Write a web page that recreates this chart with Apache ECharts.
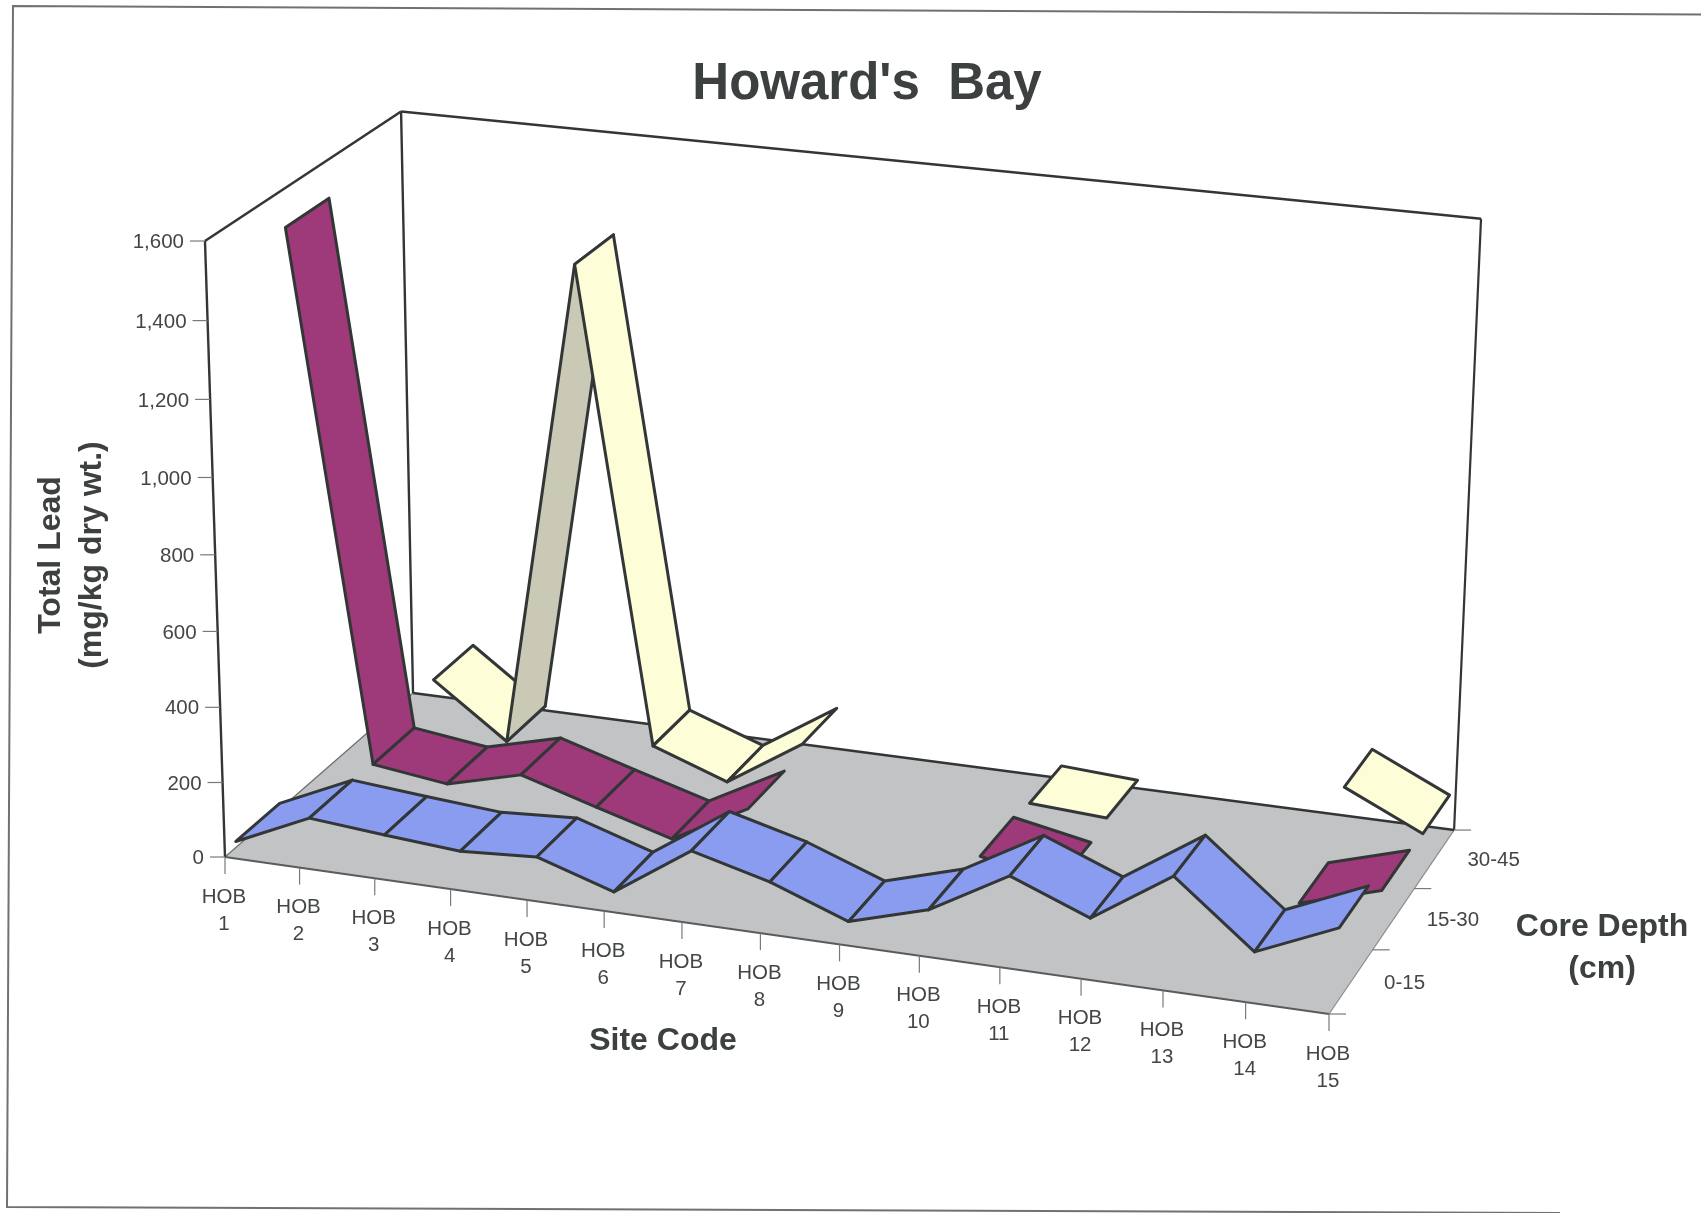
<!DOCTYPE html>
<html>
<head>
<meta charset="utf-8">
<title>Howard's Bay</title>
<script src="https://cdn.jsdelivr.net/npm/echarts@6/dist/echarts.min.js"></script>
<style>
  html, body { margin: 0; padding: 0; background: #fff; }
  #chart { width: 1701px; height: 1213px; }
</style>
</head>
<body>
<div id="chart"></div>
<script>
// Total lead (mg/kg dry wt.) per site and core depth; null means no sample.
const sites = ['1','2','3','4','5','6','7','8','9','10','11','12','13','14','15'];
const leadTicks = [0, 200, 400, 600, 800, 1000, 1200, 1400, 1600];
const depthLabels = ['0-15', '15-30', '30-45'];
const lead0to15 = [16, 107, 90, 75, 88, 24, 161, 108, 33, 93, 210, 130, 267, 102, 193];
const lead15to30 = [1500, 100, 74, 126, 66, 8, 117, null, null, 75, 35, null, null, 66, 128];
const lead30to45 = [null, 185, 40, 1351, 82, 10, 140, null, null, 62, 50, null, null, 216, 120];

// Perspective camera for the 3D box: u along sites, v into depth, w up the lead axis.
const CAMERA = {
  x: [1026.4, 215.9, -27.6, 225],
  y: [97.8, -117.2, -624.9, 857],
  h: [-0.0584, 0.0675, -0.037, 1]
};
function project(u, v, w) {
  const dot = r => r[0] * u + r[1] * v + r[2] * w + r[3];
  const h = dot(CAMERA.h);
  return [dot(CAMERA.x) / h, dot(CAMERA.y) / h];
}

// Site and lead values go through the cartesian axes, then into the 3D box.
function toBox(api, params, site, lead, depth) {
  const cs = params.coordSys;
  const c = api.coord([site, lead]);
  return project((c[0] - cs.x) / cs.width, depth, (cs.y + cs.height - c[1]) / cs.height);
}

const LABEL_FONT = '20.5px "Liberation Sans", Arial, sans-serif';
const TITLE_FONT = 'bold 32px "Liberation Sans", Arial, sans-serif';
const INK = '#333637';
const LABEL_INK = '#434647';
const EDGE = { stroke: INK, lineWidth: 3, lineJoin: 'round' };

function line(a, b, stroke, lineWidth) {
  return { type: 'line', shape: { x1: a[0], y1: a[1], x2: b[0], y2: b[1] }, style: { stroke, lineWidth } };
}
function label(text, x, y, align) {
  return {
    type: 'text',
    style: { text, x, y, align, verticalAlign: 'middle', font: LABEL_FONT, fill: LABEL_INK }
  };
}

// Floor and the two back walls.
function renderBox() {
  const a = project(0, 0, 0), b = project(1, 0, 0), c = project(1, 1, 0), d = project(0, 1, 0);
  const f = project(0, 0, 1), e = project(0, 1, 1), g = project(1, 1, 1);
  return {
    type: 'group',
    children: [
      { type: 'polygon', shape: { points: [a, b, c, d] }, style: { fill: '#c2c3c4' } },
      line(a, b, '#595b5c', 2),
      line(b, c, '#8a8c8d', 1.2),
      line(a, d, '#6b6d6e', 1.2),
      line(d, c, INK, 2.6),
      line(a, f, INK, 2.4),
      line(d, e, INK, 2.4),
      line(c, g, INK, 2.2),
      line(f, e, INK, 2.6),
      line(e, g, INK, 2.6)
    ]
  };
}

// Site ticks and two-line labels along the front floor edge.
function renderSiteTick(params, api) {
  const i = api.value(0);
  const p = toBox(api, params, i, 0, 0);
  return {
    type: 'group',
    children: [
      line(p, [p[0], p[1] + 17], '#77797a', 1.2),
      label('HOB', p[0] - 1, p[1] + 40, 'center'),
      label(sites[i], p[0] - 1, p[1] + 67, 'center')
    ]
  };
}

// Lead ticks and labels along the front-left vertical edge.
function renderLeadTick(params, api) {
  const p = toBox(api, params, 0, api.value(1), 0);
  return {
    type: 'group',
    children: [
      line([p[0] - 15, p[1]], p, '#77797a', 1.2),
      label(leadTicks[params.dataIndex].toLocaleString('en-US'), p[0] - 21, p[1] + 1.5, 'right')
    ]
  };
}

// Depth ticks on the right floor edge, with a label centred on each band.
function renderDepthTick(params, api) {
  const k = params.dataIndex;
  const t = toBox(api, params, sites.length - 1, 0, k / depthLabels.length);
  const m = toBox(api, params, sites.length - 1, 0, (k + 0.5) / depthLabels.length);
  return {
    type: 'group',
    children: [
      line(t, [t[0] + 17, t[1]], '#77797a', 1.2),
      label(depthLabels[k], m[0] + 33, m[1] + 1.5, 'left')
    ]
  };
}
function renderBackDepthTick(params, api) {
  const t = toBox(api, params, sites.length - 1, 0, 1);
  return line(t, [t[0] + 17, t[1]], '#77797a', 1.2);
}

// One ribbon face between two neighbouring sites.
function ribbonRenderer(band, fill, steepFill) {
  const near = (band + 0.5 - 0.335) / depthLabels.length;
  const far = (band + 0.5 + 0.335) / depthLabels.length;
  return function (params, api) {
    const i = api.value(0), v0 = api.value(1), v1 = api.value(2);
    const points = [
      toBox(api, params, i, v0, near),
      toBox(api, params, i, v0, far),
      toBox(api, params, i + 1, v1, far),
      toBox(api, params, i + 1, v1, near)
    ];
    const shaded = steepFill && v1 - v0 > 500;
    return {
      type: 'polygon',
      shape: { points },
      style: Object.assign({ fill: shaded ? steepFill : fill }, EDGE)
    };
  };
}

function segments(values) {
  const out = [];
  values.forEach((v, i) => {
    if (v !== null && values[i + 1] !== null && i + 1 < values.length) {
      out.push([i, v, values[i + 1]]);
    }
  });
  return out;
}

function custom(name, renderItem, data, z) {
  return {
    type: 'custom', name, renderItem, data, z,
    silent: true, clip: false, animation: false,
    encode: { x: 0, y: 1 }
  };
}

const chart = echarts.init(document.getElementById('chart'), null, { renderer: 'canvas' });
chart.setOption({
  backgroundColor: '#ffffff',
  animation: false,
  title: {
    text: "Howard's  Bay",
    left: 862, top: 54, textAlign: 'center',
    textStyle: { fontFamily: '"Liberation Sans", Arial, sans-serif', fontWeight: 'bold', fontSize: 51, color: '#3c4041' }
  },
  grid: { left: 200, top: 200, width: 1000, height: 600, show: false },
  xAxis: { type: 'category', data: sites, boundaryGap: false, show: false },
  yAxis: { type: 'value', min: 0, max: 1600, interval: 200, show: false },
  graphic: [
    // Page border
    { type: 'polyline', silent: true, z: 1, shape: { points: [[1701, 14.5], [13, 6], [7, 1207], [1560, 1213]] },
      style: { stroke: '#6f7172', lineWidth: 2, fill: null } },
    { type: 'text', silent: true, z: 10, rotation: Math.PI / 2, x: 51, y: 555,
      style: { text: 'Total Lead', align: 'center', verticalAlign: 'middle', font: TITLE_FONT, fill: '#3c4041' } },
    { type: 'text', silent: true, z: 10, rotation: Math.PI / 2, x: 92, y: 555,
      style: { text: '(mg/kg dry wt.)', align: 'center', verticalAlign: 'middle', font: TITLE_FONT, fill: '#3c4041' } },
    { type: 'text', silent: true, z: 10, x: 663, y: 1041,
      style: { text: 'Site Code', align: 'center', verticalAlign: 'middle', font: TITLE_FONT, fill: '#3c4041' } },
    { type: 'text', silent: true, z: 10, x: 1602, y: 927,
      style: { text: 'Core Depth', align: 'center', verticalAlign: 'middle', font: TITLE_FONT, fill: '#3c4041' } },
    { type: 'text', silent: true, z: 10, x: 1602, y: 969,
      style: { text: '(cm)', align: 'center', verticalAlign: 'middle', font: TITLE_FONT, fill: '#3c4041' } }
  ],
  series: [
    custom('box', renderBox, [[0, 0]], 2),
    custom('site ticks', renderSiteTick, sites.map((s, i) => [i, 0]), 3),
    custom('lead ticks', renderLeadTick, leadTicks.map(v => [0, v]), 3),
    custom('depth ticks', renderDepthTick, depthLabels.map(() => [14, 0]), 3),
    custom('back depth tick', renderBackDepthTick, [[14, 0]], 3),
    custom('30-45', ribbonRenderer(2, '#fdfdd8', '#c9c9b6'), segments(lead30to45), 4),
    custom('15-30', ribbonRenderer(1, '#9e3a7a'), segments(lead15to30), 5),
    custom('0-15', ribbonRenderer(0, '#8a9cf0'), segments(lead0to15), 6)
  ]
});
</script>
</body>
</html>
